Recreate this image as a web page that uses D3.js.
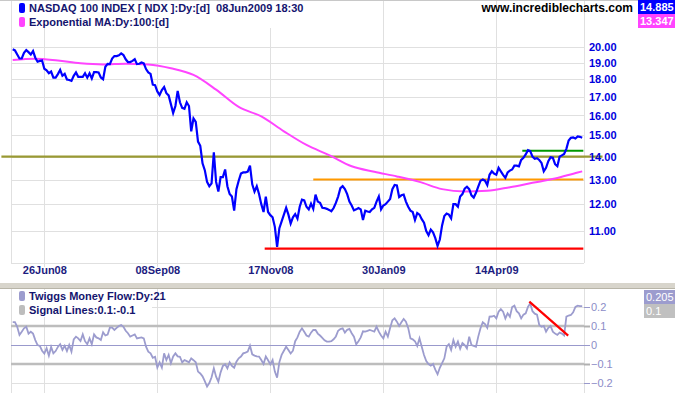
<!DOCTYPE html>
<html>
<head>
<meta charset="utf-8">
<script src="https://cdn.jsdelivr.net/npm/d3@7"></script>
<style>
  body { margin: 0; background: #fff; }
  svg { display: block; font-family: Arial, "Liberation Sans", sans-serif; }
  .legend { font-size: 11px; font-weight: bold; fill: #14146e; white-space: pre; }
</style>
</head>
<body>
<div id="chart"></div>
<script>
// trading-day index 0 = 06Jun08, 252 = 08Jun09
const dateLabels = ['26Jun08', '08Sep08', '17Nov08', '30Jan09', '14Apr09'];
const dateTickIdx = [14, 64, 114, 164, 214];

const ndx = [
  19.83, 19.76, 19.5, 19.25, 19.25, 19.6, 19.78, 19.65, 19.5, 19.72,
  19.3, 19.05, 19.1, 19.12, 18.62, 18.53, 18.35, 18.45, 18.09, 18.09,
  18.3, 18.55, 18.2, 18.31, 17.98, 17.95, 17.9, 18.2, 18.4, 18.14,
  18.14, 18.14, 18.35, 18.09, 18.35, 18.04, 18.42, 18.42, 18.4, 18.1,
  18.0, 18.74, 18.92, 18.9, 19.25, 19.4, 19.4, 19.45, 19.57, 19.47,
  19.2, 19.03, 19.03, 19.1, 19.2, 18.9, 18.92, 19.0, 18.95, 18.6,
  18.4, 18.31, 17.68, 17.65, 17.3, 17.1, 17.38, 17.55, 17.2, 17.08,
  16.6, 16.13, 16.5, 17.33, 16.7, 16.4, 16.35, 16.7, 16.5, 15.2,
  15.85, 15.67, 14.7, 14.5, 13.7, 13.4, 12.9, 12.72, 12.84, 14.2,
  12.9, 12.5, 13.1, 13.1, 13.43, 12.72, 12.4, 12.3, 11.75, 12.6,
  12.95, 13.25, 13.3, 13.3, 13.34, 13.6, 12.8, 12.5, 12.72, 12.4,
  12.0, 11.7, 12.3, 11.7, 11.58, 11.5, 11.15, 10.45, 11.1, 11.35,
  11.6, 11.86, 11.6, 11.27, 11.5, 11.62, 11.45, 11.9, 12.18, 12.15,
  11.9, 11.8, 12.02, 11.82, 12.38, 12.1, 12.05, 11.86, 11.85, 11.82,
  11.78, 11.73, 11.85, 12.05, 12.3, 12.64, 12.72, 12.6, 12.4, 12.1,
  11.95, 11.76, 11.8, 11.85, 11.8, 11.4, 11.75, 11.72, 11.7, 11.8,
  11.86, 12.1, 12.3, 11.8, 11.95, 12.0, 12.1, 12.2, 12.6, 12.77,
  12.75, 12.28, 12.35, 12.38, 12.1, 11.9, 11.75, 11.7, 11.4, 11.66,
  11.6, 11.43, 11.3, 11.0, 10.85, 11.05, 10.95, 10.75, 10.48, 10.7,
  11.2, 11.55, 11.64, 11.6, 11.46, 12.0, 12.0, 11.9, 12.3, 12.4,
  12.62, 12.7, 12.6, 12.35, 12.26, 12.45, 12.7, 12.95, 13.0, 12.95,
  12.77, 13.2, 13.35, 13.25, 13.2, 13.5, 13.35, 13.2, 13.07, 13.3,
  13.38, 13.43, 13.6, 13.6, 13.57, 13.85, 13.95, 14.1, 14.3, 14.26,
  14.0, 13.9, 13.93, 13.85, 13.72, 13.35, 13.5, 13.8, 13.97, 13.95,
  13.66, 13.57, 14.0, 14.06, 14.12, 14.36, 14.75, 14.88, 14.9, 14.85,
  14.95, 14.93, 14.885
];

// 100-day exponential MA, read every 10 trading days
const emaIdx = [0, 10, 20, 30, 40, 50, 60, 70, 80, 90, 100, 110, 120, 130, 140,
  150, 160, 170, 180, 190, 200, 210, 220, 230, 240, 250, 252];
const ema = [19.15, 19.24, 19.12, 18.95, 18.88, 18.93, 18.88, 18.65, 18.25, 17.4,
  16.45, 15.95, 15.2, 14.54, 14.07, 13.57, 13.33, 13.13, 12.9, 12.6,
  12.5, 12.53, 12.68, 12.86, 13.04, 13.3, 13.347];

const tmf = [
  0.12, 0.12, 0.096, 0.053, 0.07, 0.088, 0.096, 0.06, 0.07, 0.06,
  0.026, 0.0, -0.005, -0.03, -0.045, -0.017, -0.056, -0.01, -0.044, -0.032,
  -0.01, 0.004, -0.026, -0.004, -0.032, 0.0, -0.035, 0.03, 0.044, 0.035,
  0.021, 0.056, 0.02, 0.004, 0.035, 0.004, 0.056, 0.04, 0.035, 0.026,
  0.067, 0.05, 0.055, 0.091, 0.091, 0.079, 0.09, 0.1, 0.105, 0.096,
  0.075, 0.062, 0.044, 0.05, 0.056, 0.035, 0.038, 0.04, 0.035, -0.009,
  -0.035, -0.044, -0.067, -0.062, -0.119, -0.091, -0.119, -0.044, -0.079, -0.052,
  -0.096, -0.06, -0.044, -0.06, -0.062, -0.091, -0.079, -0.085, -0.091, -0.07,
  -0.08, -0.091, -0.14, -0.15, -0.165, -0.19, -0.219, -0.2, -0.17, -0.123,
  -0.167, -0.193, -0.144, -0.11, -0.102, -0.123, -0.091, -0.11, -0.12, -0.088,
  -0.07, -0.061, -0.044, -0.04, -0.035, -0.004, -0.049, -0.056, -0.06, -0.061,
  -0.079, -0.1, -0.06, -0.08, -0.102, -0.079, -0.14, -0.172, -0.09, -0.052,
  -0.03, -0.009, -0.026, -0.045, -0.03, 0.02, 0.04, 0.07, 0.088, 0.07,
  0.05, 0.044, 0.065, 0.079, 0.079, 0.06, 0.05, 0.038, 0.025, 0.018,
  0.018, 0.02, 0.03, 0.045, 0.075, 0.084, 0.088, 0.065, 0.08, 0.085,
  0.062, 0.044, 0.004, 0.02, 0.04, 0.072, 0.07, 0.074, 0.079, 0.075,
  0.07, 0.096, 0.07, 0.05, 0.035, 0.07, 0.044, 0.09, 0.13, 0.14,
  0.123, 0.1, 0.12, 0.137, 0.123, 0.09, 0.035, 0.03, 0.02, -0.005,
  0.035, -0.009, -0.053, -0.085, -0.1, -0.109, -0.1, -0.13, -0.154, -0.12,
  -0.095, -0.07, -0.009, 0.004, -0.026, 0.026, -0.009, 0.018, -0.02, 0.01,
  0.0, -0.018, 0.044, 0.0, -0.005, -0.009, 0.044, 0.088, 0.12, 0.11,
  0.09, 0.149, 0.15, 0.154, 0.14, 0.175, 0.189, 0.175, 0.14, 0.167,
  0.149, 0.2, 0.207, 0.178, 0.167, 0.14, 0.16, 0.167, 0.2, 0.219,
  0.178, 0.165, 0.16, 0.105, 0.096, 0.1, 0.07, 0.09, 0.1, 0.07,
  0.06, 0.053, 0.065, 0.06, 0.05, 0.149, 0.155, 0.158, 0.172, 0.2,
  0.207, 0.205, 0.205
];

const priceTicks = [11, 12, 13, 14, 15, 16, 17, 18, 19, 20];
const tmfTicks = [0.2, 0.1, 0, -0.1, -0.2];
const signalLevels = [0.1, -0.1];

// drawn trend / support lines on the price panel
const levelValue = [14.0, 13.0, 10.39, 14.27];
const levelFrom = [-5, 133, 111.5, 225.5];
const levelTo = [261, 252.5, 252.5, 252.5];
const levelColors = ['#999933', '#ff9900', '#ff0000', '#009900'];

// trend line on the money flow panel
const tmfTrendIdx = [228.6, 245.8];
const tmfTrendVal = [0.228, 0.049];

const W = 675, H = 400;
const plotL = 11, plotR = 584;
const top1 = 1, bot1 = 263;
const top2 = 289, bot2 = 393;

const svg = d3.select('#chart')
  .append('svg')
  .attr('width', W)
  .attr('height', H);

const x = d3.scaleLinear()
  .domain([0, 252])
  .range([12.7, 582.2]);

const y = d3.scaleLog()
  .domain([11, 20])
  .range([231, 46.7]);

const y2 = d3.scaleLinear()
  .domain([-0.2, 0.2])
  .range([383, 307]);

// top frame line
svg.append('line')
  .attr('x1', 0).attr('x2', W).attr('y1', 0.5).attr('y2', 0.5)
  .attr('stroke', '#c8c8c8');

// ---------- price panel ----------
const grid = svg.append('g').attr('stroke', '#e0e0e0').attr('stroke-width', 1);

grid.selectAll('.hg')
  .data(priceTicks)
  .join('line')
  .attr('x1', plotL).attr('x2', plotR)
  .attr('y1', d => Math.round(y(d)) + 0.5)
  .attr('y2', d => Math.round(y(d)) + 0.5);

grid.selectAll('.vg')
  .data(dateTickIdx)
  .join('line')
  .attr('x1', d => Math.round(x(d)) + 0.5)
  .attr('x2', d => Math.round(x(d)) + 0.5)
  .attr('y1', top1).attr('y2', bot1 + 4);

grid.append('line')
  .attr('x1', plotL + 0.5).attr('x2', plotL + 0.5).attr('y1', top1).attr('y2', bot1);
grid.append('line')
  .attr('x1', plotR + 0.5).attr('x2', plotR + 0.5).attr('y1', top1).attr('y2', bot1);
grid.append('line')
  .attr('x1', plotL).attr('x2', plotR).attr('y1', bot1 + 0.5).attr('y2', bot1 + 0.5);

// support / resistance lines
svg.selectAll('.level')
  .data(levelValue)
  .join('line')
  .attr('class', 'level')
  .attr('x1', (d, i) => x(levelFrom[i]))
  .attr('x2', (d, i) => x(levelTo[i]))
  .attr('y1', d => y(d))
  .attr('y2', d => y(d))
  .attr('stroke', (d, i) => levelColors[i])
  .attr('stroke-width', 2.2);

// exponential MA
const emaLine = d3.line()
  .x((d, i) => x(emaIdx[i]))
  .y(d => y(d))
  .curve(d3.curveMonotoneX);

svg.append('path')
  .datum(ema)
  .attr('fill', 'none')
  .attr('stroke', '#ff44ff')
  .attr('stroke-width', 2)
  .attr('d', emaLine);

// index close
const priceLine = d3.line()
  .x((d, i) => x(i))
  .y(d => y(d));

svg.append('path')
  .datum(ndx)
  .attr('fill', 'none')
  .attr('stroke', '#0000ff')
  .attr('stroke-width', 2.2)
  .attr('d', priceLine);

// right price axis
const yAxis = d3.axisRight(y)
  .tickValues(priceTicks)
  .tickFormat(d3.format('.2f'))
  .tickSize(0)
  .tickPadding(5);

svg.append('g')
  .attr('transform', `translate(${plotR},0)`)
  .call(yAxis)
  .call(g => g.select('.domain').remove())
  .selectAll('text')
  .attr('fill', '#0000dd')
  .style('font-size', '11px')
  .style('font-weight', 'bold')
  .style('font-family', 'Arial, "Liberation Sans", sans-serif');

// date axis
const xAxis = d3.axisBottom(x)
  .tickValues(dateTickIdx)
  .tickFormat((d, i) => dateLabels[i])
  .tickSize(0)
  .tickPadding(3);

svg.append('g')
  .attr('transform', `translate(0,${bot1})`)
  .call(xAxis)
  .call(g => g.select('.domain').remove())
  .selectAll('text')
  .attr('fill', '#1c1c80')
  .style('font-size', '11px')
  .style('font-weight', 'bold')
  .style('font-family', 'Arial, "Liberation Sans", sans-serif');

// legend
svg.append('rect')
  .attr('x', plotL + 1).attr('y', 1).attr('width', 300).attr('height', 27)
  .attr('fill', '#fff');

const legend1 = [
  { text: 'NASDAQ 100 INDEX [ NDX ]:Dy:[d]  08Jun2009 18:30', color: '#0000ff' },
  { text: 'Exponential MA:Dy:100:[d]', color: '#ff44ff' }
];

legend1.forEach((d, i) => {
  svg.append('rect')
    .attr('x', 19).attr('y', 3 + i * 14).attr('width', 6).attr('height', 10)
    .attr('rx', 2)
    .attr('fill', d.color);
  svg.append('text')
    .attr('class', 'legend')
    .attr('x', 29).attr('y', 12 + i * 14)
    .text(d.text);
});

svg.append('text')
  .attr('x', 633).attr('y', 12)
  .attr('text-anchor', 'end')
  .style('font-size', '12px')
  .style('font-weight', 'bold')
  .attr('fill', '#000')
  .text('www.incrediblecharts.com');

// last value boxes
const lastBoxes = [
  { v: ndx[ndx.length - 1].toFixed(3), color: '#0000ff', y: 0 },
  { v: ema[ema.length - 1].toFixed(3), color: '#ff44ff', y: 14 }
];
lastBoxes.forEach(d => {
  svg.append('rect').attr('x', 638).attr('y', d.y).attr('width', 37).attr('height', 14)
    .attr('fill', d.color);
  svg.append('text').attr('x', 640).attr('y', d.y + 11)
    .attr('fill', '#fff')
    .style('font-size', '11px').style('font-weight', 'bold')
    .text(d.v);
});

// separator
svg.append('rect')
  .attr('x', 0).attr('y', 283).attr('width', W).attr('height', 5)
  .attr('fill', '#d8d5cc');
svg.append('line')
  .attr('x1', 0).attr('x2', W).attr('y1', 288.5).attr('y2', 288.5)
  .attr('stroke', '#b8b5a8');

// ---------- money flow panel ----------
const grid2 = svg.append('g').attr('stroke', '#e0e0e0').attr('stroke-width', 1);

grid2.selectAll('.hg2')
  .data([0.2, -0.2])
  .join('line')
  .attr('x1', plotL).attr('x2', plotR)
  .attr('y1', d => Math.round(y2(d)) + 0.5)
  .attr('y2', d => Math.round(y2(d)) + 0.5);

grid2.selectAll('.vg2')
  .data(dateTickIdx)
  .join('line')
  .attr('x1', d => Math.round(x(d)) + 0.5)
  .attr('x2', d => Math.round(x(d)) + 0.5)
  .attr('y1', top2).attr('y2', bot2);

grid2.append('line')
  .attr('x1', plotL + 0.5).attr('x2', plotL + 0.5).attr('y1', top2).attr('y2', bot2);
grid2.append('line')
  .attr('x1', plotR + 0.5).attr('x2', plotR + 0.5).attr('y1', top2).attr('y2', bot2);

svg.selectAll('.signal')
  .data(signalLevels)
  .join('line')
  .attr('class', 'signal')
  .attr('x1', plotL).attr('x2', plotR)
  .attr('y1', d => y2(d)).attr('y2', d => y2(d))
  .attr('stroke', '#bdbdbd')
  .attr('stroke-width', 2.5);

svg.append('line')
  .attr('x1', plotL).attr('x2', plotR)
  .attr('y1', Math.round(y2(0)) + 0.5).attr('y2', Math.round(y2(0)) + 0.5)
  .attr('stroke', '#9999cc');

const tmfLine = d3.line()
  .x((d, i) => x(i))
  .y(d => y2(d));

svg.append('path')
  .datum(tmf)
  .attr('fill', 'none')
  .attr('stroke', '#9c9cce')
  .attr('stroke-width', 1.8)
  .attr('d', tmfLine);

svg.append('line')
  .attr('x1', x(tmfTrendIdx[0])).attr('x2', x(tmfTrendIdx[1]))
  .attr('y1', y2(tmfTrendVal[0])).attr('y2', y2(tmfTrendVal[1]))
  .attr('stroke', '#ff0000')
  .attr('stroke-width', 2.2);

// right axis for money flow
const y2Axis = d3.axisRight(y2)
  .tickValues(tmfTicks)
  .tickFormat(d => d === 0 ? '0' : d3.format('.1f')(d).replace('-', '\u2212'))
  .tickSize(6)
  .tickPadding(1);

const ax2 = svg.append('g')
  .attr('transform', `translate(${plotR},0)`)
  .call(y2Axis)
  .call(g => g.select('.domain').remove());

ax2.selectAll('line')
  .attr('stroke', d => (d === 0.1 || d === -0.1) ? '#b0b0b0' : '#9999cc')
  .attr('stroke-width', d => (d === 0.1 || d === -0.1) ? 2 : 1);

ax2.selectAll('text')
  .attr('fill', '#8c8cc8')
  .style('font-size', '11px')
  .style('font-family', 'Arial, "Liberation Sans", sans-serif');

// legend 2
svg.append('rect')
  .attr('x', plotL + 1).attr('y', top2 + 1).attr('width', 140).attr('height', 27)
  .attr('fill', '#fff');

const legend2 = [
  { text: 'Twiggs Money Flow:Dy:21', color: '#9c9cce' },
  { text: 'Signal Lines:0.1:-0.1', color: '#bdbdbd' }
];

legend2.forEach((d, i) => {
  svg.append('rect')
    .attr('x', 19).attr('y', 291 + i * 14).attr('width', 6).attr('height', 10)
    .attr('rx', 2)
    .attr('fill', d.color);
  svg.append('text')
    .attr('class', 'legend')
    .attr('x', 29).attr('y', 300 + i * 14)
    .text(d.text);
});

const lastBoxes2 = [
  { v: tmf[tmf.length - 1].toFixed(3), color: '#9c9cce', y: 290 },
  { v: '0.1', color: '#c0c0c0', y: 304 }
];
lastBoxes2.forEach(d => {
  svg.append('rect').attr('x', 644).attr('y', d.y).attr('width', 31).attr('height', 14)
    .attr('fill', d.color);
  svg.append('text').attr('x', 646).attr('y', d.y + 11)
    .attr('fill', '#fff')
    .style('font-size', '11px')
    .text(d.v);
});
</script>
</body>
</html>
